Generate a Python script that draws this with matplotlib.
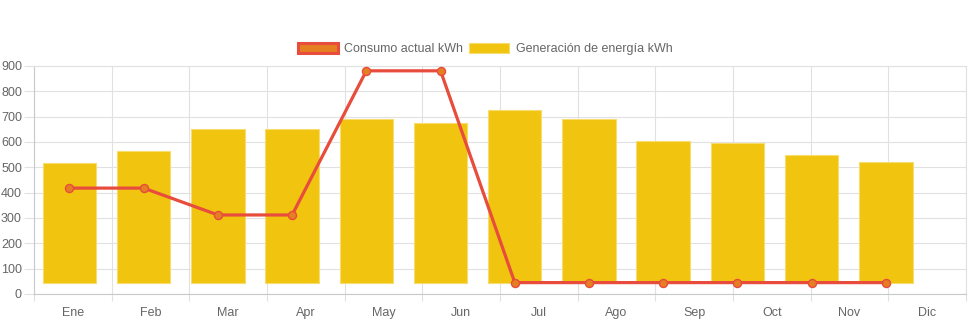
import matplotlib.pyplot as plt
import numpy as np
from matplotlib.patches import Patch

months = ["Ene", "Feb", "Mar", "Apr", "May", "Jun", "Jul", "Ago", "Sep", "Oct", "Nov", "Dic"]
generacion = [518, 564, 652, 653, 690, 674, 727, 691, 604, 596, 550, 521]
consumo = [418, 418, 312, 312, 881, 881, 45, 45, 45, 45, 45, 45]
bar_base = 45

plt.rcParams["font.family"] = ["Liberation Sans", "DejaVu Sans"]
text_color = "#666666"
grid_color = "#e1e1e1"
axis_color = "#c9c9c9"

fig = plt.figure(figsize=(9.71, 3.23), dpi=100)
ax = fig.add_axes([34 / 971, 29 / 323, 932 / 971, 228 / 323])

x = np.arange(len(months))
ax.bar(x, np.array(generacion) - bar_base, bottom=bar_base, width=0.72,
       color="#f1c40f", edgecolor="#f7dc6f", linewidth=0.8, zorder=2)
ax.plot(x, consumo, color="#e74c3c", linewidth=2.3, marker="o", markersize=5.8,
        markerfacecolor="#e67e22", markeredgecolor="#e74c3c", markeredgewidth=1.0, zorder=3)

# category slots span the whole axis; data points sit on a slightly tighter spacing
xmin, xmax = -0.478, 12.08
ax.set_xlim(xmin, xmax)
edges = np.linspace(xmin, xmax, len(months) + 1)
centers = (edges[:-1] + edges[1:]) / 2
ax.set_xticks(edges)
ax.set_xticklabels([])
ax.set_xticks(centers, minor=True)
ax.set_xticklabels(months, minor=True)
ax.tick_params(axis="x", which="major", length=5, color=grid_color, width=0.8)
ax.tick_params(axis="x", which="minor", length=0, pad=9.5, labelsize=9, labelcolor=text_color)

ax.set_ylim(0, 900)
ax.set_yticks(range(0, 901, 100))
ax.tick_params(axis="y", length=7.2, color=grid_color, width=0.8, pad=1.5,
               labelsize=9, labelcolor=text_color)

ax.grid(True, which="major", color=grid_color, linewidth=0.8, zorder=0)
ax.set_axisbelow(True)
for side in ["top", "right"]:
    ax.spines[side].set_color(grid_color)
    ax.spines[side].set_linewidth(0.8)
for side in ["left", "bottom"]:
    ax.spines[side].set_color(axis_color)
    ax.spines[side].set_linewidth(0.8)

handles = [
    Patch(facecolor="#e67e22", edgecolor="#e74c3c", linewidth=2.2, label="Consumo actual kWh"),
    Patch(facecolor="#f1c40f", edgecolor="#f7dc6f", linewidth=0.8, label="Generación de energía kWh"),
]
leg = fig.legend(handles=handles, loc="center", bbox_to_anchor=(485 / 971, 1 - 49 / 323),
                 ncol=2, frameon=False, fontsize=9, handlelength=3.2, handleheight=0.9,
                 handletextpad=0.5, columnspacing=0.5)
for t in leg.get_texts():
    t.set_color(text_color)

fig.savefig("out.png", dpi=100)
